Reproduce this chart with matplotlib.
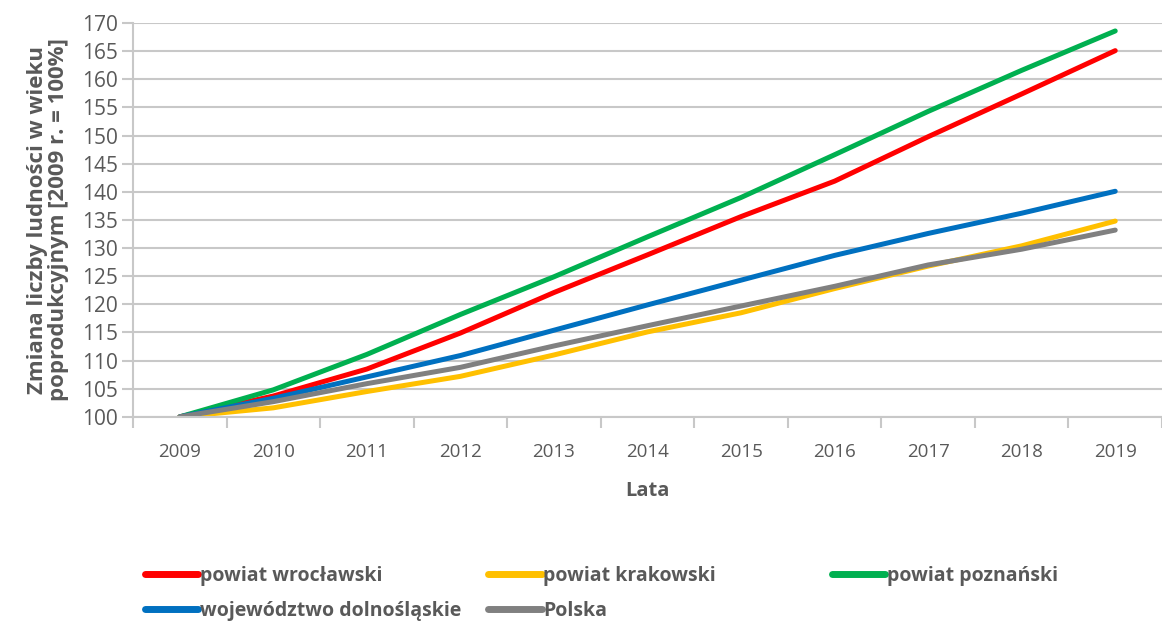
import matplotlib.pyplot as plt
from matplotlib.lines import Line2D

years = [2009, 2010, 2011, 2012, 2013, 2014, 2015, 2016, 2017, 2018, 2019]

# index values, 2009 = 100
wroclawski = [100, 103.7, 108.5, 114.9, 122.1, 128.8, 135.6, 141.9, 149.8, 157.4, 165.1]
krakowski = [100, 101.6, 104.5, 107.2, 111.0, 115.1, 118.5, 122.8, 126.8, 130.4, 134.8]
poznanski = [100, 104.8, 111.1, 118.2, 124.9, 132.0, 139.0, 146.6, 154.3, 161.6, 168.6]
dolnoslaskie = [100, 103.3, 107.1, 110.9, 115.4, 119.9, 124.3, 128.7, 132.6, 136.2, 140.1]
polska = [100, 102.7, 105.9, 108.8, 112.6, 116.2, 119.7, 123.2, 127.0, 129.8, 133.2]

names = ['powiat wrocławski', 'powiat krakowski', 'powiat poznański',
         'województwo dolnośląskie', 'Polska']
colors = ['#ff0000', '#ffc000', '#00b050', '#0070c0', '#808080']
series = [wroclawski, krakowski, poznanski, dolnoslaskie, polska]

plt.rcParams['font.family'] = ['Open Sans', 'DejaVu Sans']
txt = '#595959'
grid = '#c8c8c8'

fig = plt.figure(figsize=(11.62, 6.24), dpi=100)
ax = fig.add_axes([0.1145, 0.332, 0.8855, 0.631])

x = list(range(len(years)))
for s, c in zip(series, colors):
    ax.plot(x, s, color=c, lw=3.6, solid_capstyle='round', solid_joinstyle='round')

ax.set_ylim(100, 170)
ax.set_yticks(range(100, 171, 5))
ax.set_xlim(-0.5, 10.41)
ax.set_xticks(x)
ax.set_xticklabels(years)
ax.set_xticks([i + 0.5 for i in range(-1, 11)], minor=True)
ax.tick_params(axis='x', which='major', length=0, pad=19, labelsize=13.5, labelcolor=txt)
ax.tick_params(axis='x', which='minor', length=8, width=1.5, color=grid)
ax.tick_params(axis='y', length=8, width=1.5, color=grid, labelsize=15, labelcolor=txt, pad=3)

ax.grid(axis='y', color=grid, lw=1.5)
ax.set_axisbelow(True)
for side in ['top', 'right']:
    ax.spines[side].set_visible(False)
for side in ['left', 'bottom']:
    ax.spines[side].set_color(grid)
    ax.spines[side].set_linewidth(1.5)

ax.set_xlabel('Lata', fontsize=14.5, fontweight='bold', color=txt, labelpad=14)
ax.set_ylabel('Zmiana liczby ludności w wieku\npoprodukcyjnym [2009 r. = 100%]',
              fontsize=16, fontweight='bold', color=txt, labelpad=9, linespacing=1.0)

# legend: Excel-style fixed slots
slots = [(0.1248, 0.077), (0.420, 0.077), (0.716, 0.077), (0.1248, 0.021), (0.420, 0.021)]
for name, c, (lx, ly) in zip(names, colors, slots):
    h = Line2D([0], [0], color=c, lw=5, solid_capstyle='round')
    fig.legend([h], [name], loc='center left', bbox_to_anchor=(lx, ly),
               frameon=False, handlelength=2.75, handletextpad=0.1,
               borderpad=0, borderaxespad=0,
               prop={'size': 14, 'weight': 'bold'}, labelcolor=txt)

fig.savefig('out.png', dpi=100)
